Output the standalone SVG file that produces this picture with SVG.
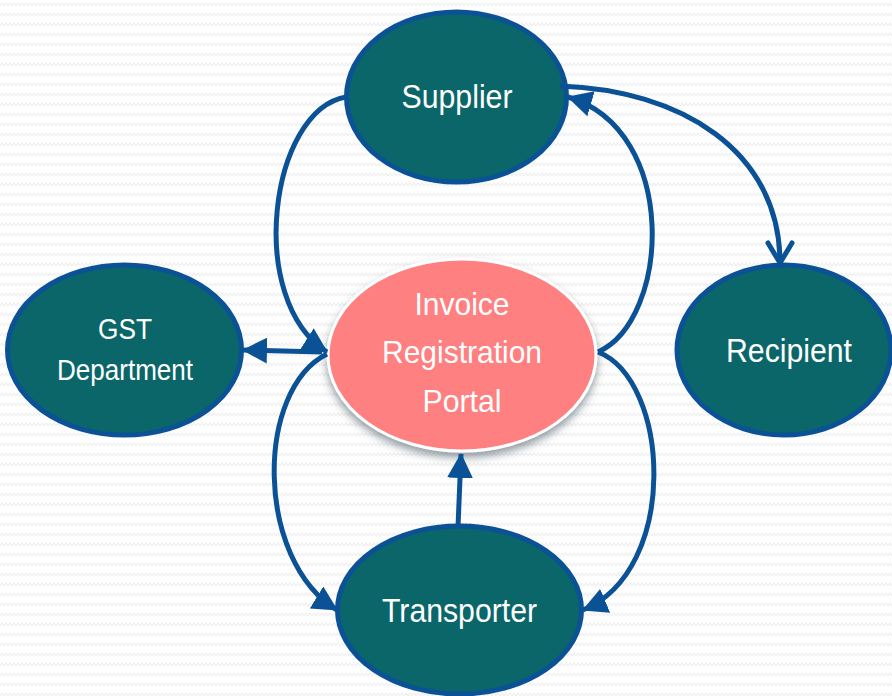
<svg xmlns="http://www.w3.org/2000/svg" width="892" height="696" viewBox="0 0 892 696">
<style>
.node{fill:#0B6669;stroke:#0B5196;stroke-width:5}
.lbl{font-family:"Liberation Sans",Arial,sans-serif;fill:#ffffff;text-anchor:middle}
.con{fill:none;stroke:#0B5196;stroke-width:5}
</style>
<defs>
<pattern id="bg" width="8" height="10" patternUnits="userSpaceOnUse">
<polyline points="0,6 2,3 4,6 6,3 8,6" fill="none" stroke="#eeeeee" stroke-width="1.2"/>
</pattern>
<marker id="tri" markerUnits="userSpaceOnUse" viewBox="0 0 25 26" markerWidth="25" markerHeight="26" refX="24" refY="13" orient="auto-start-reverse">
<path d="M0,0 L25,13 L0,26 z" fill="#0B5196"/>
</marker>
<marker id="chev" markerUnits="userSpaceOnUse" viewBox="-4 -16 28 32" markerWidth="28" markerHeight="32" refX="20" refY="0" orient="auto" overflow="visible">
<path d="M0,-12 L20,0 L0,12" fill="none" stroke="#0B5196" stroke-width="5" stroke-linecap="round" stroke-linejoin="miter"/>
</marker>
<filter id="sh" x="-20%" y="-20%" width="140%" height="150%">
<feDropShadow dx="0" dy="5" stdDeviation="4" flood-color="#4a5a66" flood-opacity="0.6"/>
</filter>
</defs>
<rect width="892" height="696" fill="#ffffff"/>
<rect width="892" height="696" fill="url(#bg)"/>

<g id="supplier">
<ellipse class="node" cx="456.5" cy="97" rx="110" ry="85"/>
<text class="lbl" x="457" y="108" font-size="33" textLength="111" lengthAdjust="spacingAndGlyphs">Supplier</text>
</g>
<g id="gst">
<ellipse class="node" cx="124.5" cy="350" rx="117" ry="85"/>
<text class="lbl" x="125" y="339" font-size="29" textLength="54" lengthAdjust="spacingAndGlyphs">GST</text>
<text class="lbl" x="125" y="380" font-size="29" textLength="136" lengthAdjust="spacingAndGlyphs">Department</text>
</g>
<g id="recipient">
<ellipse class="node" cx="784" cy="350" rx="107" ry="85"/>
<text class="lbl" x="789" y="362" font-size="34" textLength="126" lengthAdjust="spacingAndGlyphs">Recipient</text>
</g>
<g id="transporter">
<ellipse class="node" cx="459.5" cy="610" rx="122" ry="84"/>
<text class="lbl" x="459.5" y="622" font-size="34" textLength="155" lengthAdjust="spacingAndGlyphs">Transporter</text>
</g>
<g id="portal">
<ellipse cx="462" cy="355" rx="134" ry="96" fill="#FF8080" stroke="#ffffff" stroke-width="3" filter="url(#sh)"/>
<text class="lbl" x="462" y="315" font-size="32" textLength="95" lengthAdjust="spacingAndGlyphs">Invoice</text>
<text class="lbl" x="462" y="363" font-size="32" textLength="160" lengthAdjust="spacingAndGlyphs">Registration</text>
<text class="lbl" x="462" y="412" font-size="32" textLength="79" lengthAdjust="spacingAndGlyphs">Portal</text>
</g>

<g id="connectors">
<path class="con" d="M346,97 C270,110 245,300 327,352" marker-end="url(#tri)"/>
<path class="con" d="M243,350 L322,352" marker-start="url(#tri)"/>
<path class="con" d="M327,354 C255,390 255,560 337,610" marker-end="url(#tri)"/>
<path class="con" d="M598,352 C670,320 680,130 568,97" marker-end="url(#tri)"/>
<path class="con" d="M598,352 C670,380 680,570 583,610" marker-end="url(#tri)"/>
<path class="con" d="M560,86 C680,90 780,150 780,263" marker-end="url(#chev)"/>
<path class="con" d="M458,527 L461,454" marker-end="url(#tri)"/>
</g>
</svg>
